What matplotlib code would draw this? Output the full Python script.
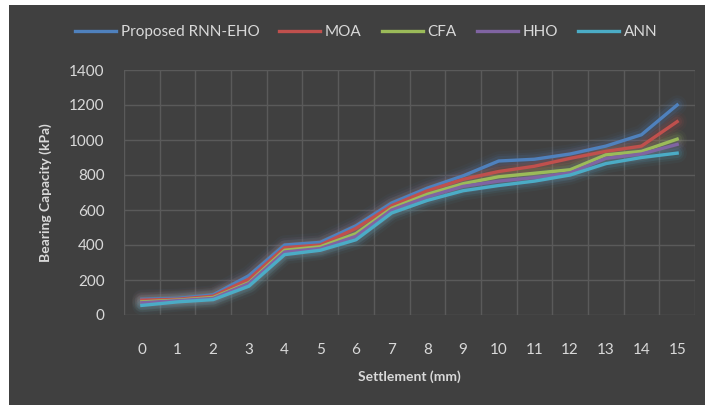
import numpy as np
import matplotlib.pyplot as plt
from matplotlib.patches import Rectangle

plt.rcParams['font.family'] = ['Lato', 'DejaVu Sans']

settlement = list(range(16))
rnn_eho = [90, 95, 115, 225, 400, 415, 510, 640, 725, 795, 880, 890, 920, 965, 1030, 1200]
moa = [85, 90, 108, 205, 385, 400, 495, 625, 710, 775, 820, 850, 895, 935, 965, 1105]
cfa = [75, 85, 100, 185, 370, 390, 465, 610, 690, 750, 790, 810, 830, 915, 935, 1005]
hho = [70, 82, 95, 180, 360, 380, 450, 600, 675, 735, 765, 785, 812, 895, 920, 975]
ann = [55, 75, 88, 165, 345, 370, 430, 583, 655, 710, 740, 765, 800, 865, 900, 925]

labels = ['Proposed RNN-EHO', 'MOA', 'CFA', 'HHO', 'ANN']
series = [rnn_eho, moa, cfa, hho, ann]
colors = ['#4F81BD', '#C0504D', '#9BBB59', '#8064A2', '#4BACC6']

bg = '#404040'
txt = '#D9D9D9'

fig = plt.figure(figsize=(7.05, 4.05), dpi=100)
fig.patch.set_facecolor('white')
fig.patches.append(Rectangle((9 / 705, 0), 1, 1 - 5 / 405, transform=fig.transFigure,
                             facecolor=bg, edgecolor='none', zorder=-10))

ax = fig.add_axes([124 / 705, 1 - 315 / 405, (695 - 124) / 705, (315 - 70) / 405])
ax.set_facecolor(bg)

# glow under each line
for vals, c in zip(series, colors):
    for lw, a in [(14, 0.05), (10, 0.08), (7, 0.12)]:
        ax.plot(settlement, vals, color=c, lw=lw, alpha=a, solid_capstyle='round', zorder=2)
for vals, c, lab in zip(series, colors, labels):
    ax.plot(settlement, vals, color=c, lw=2.4, label=lab, zorder=3)

ax.set_xlim(-0.5, 15.5)
ax.set_ylim(0, 1400)
ax.set_yticks(range(0, 1401, 200))
ax.set_xticks(settlement)
ax.set_xticks(np.arange(-0.5, 15.6, 1), minor=True)
ax.grid(True, which='minor', axis='x', color='#5A5A5A', lw=1)
ax.grid(True, which='major', axis='y', color='#5A5A5A', lw=1)
ax.set_axisbelow(True)
ax.tick_params(which='both', length=0, colors=txt, labelsize=11)
ax.tick_params(axis='x', pad=20)
ax.tick_params(axis='y', pad=14)
for s in ax.spines.values():
    s.set_visible(False)

ax.set_xlabel('Settlement (mm)', color=txt, fontsize=10, fontweight='bold', labelpad=10)
ax.set_ylabel('Bearing Capacity (kPa)', color=txt, fontsize=10, fontweight='bold', labelpad=12)

leg = fig.legend(loc='center', bbox_to_anchor=(366 / 705, 1 - 32 / 405), ncol=5, frameon=False,
                 fontsize=11, handlelength=2.7, columnspacing=1.3, handletextpad=0.3)
for t in leg.get_texts():
    t.set_color(txt)

fig.savefig('out.png', dpi=100, facecolor=fig.get_facecolor())
